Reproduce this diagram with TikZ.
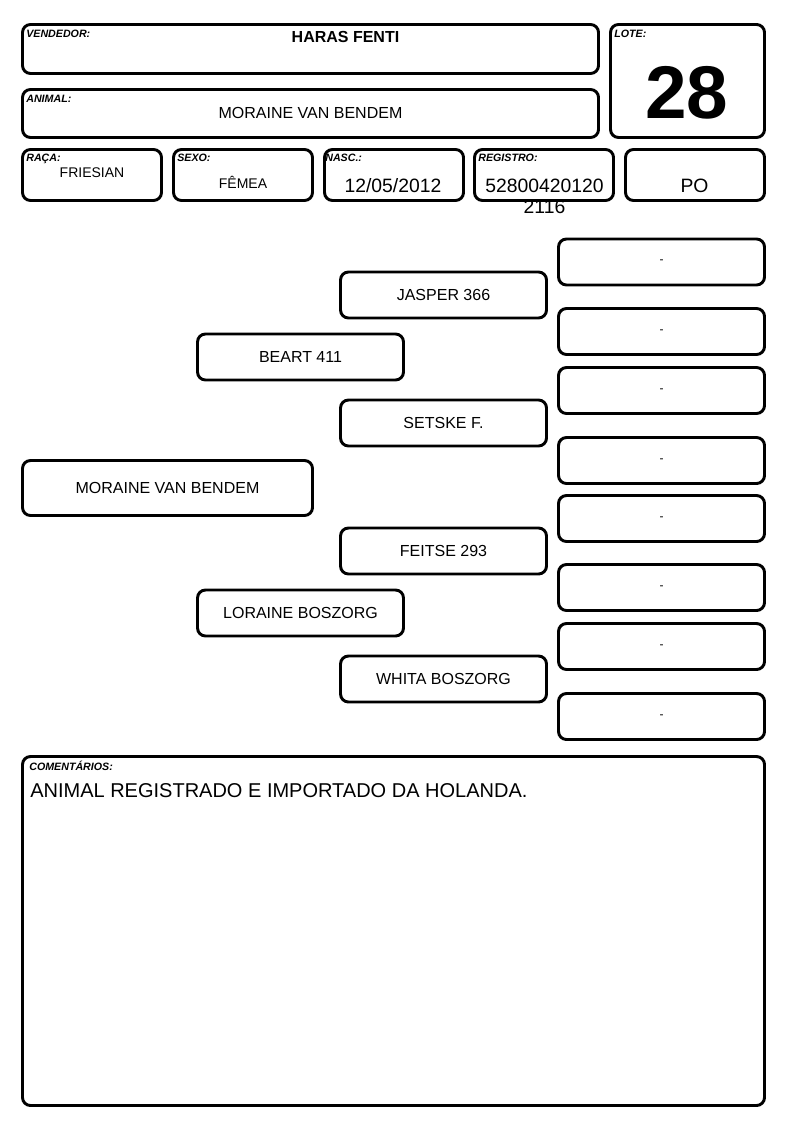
\documentclass[tikz,border=0pt]{standalone}
\usepackage{fontspec}
\setmainfont{Liberation Sans}

\begin{document}
\begin{tikzpicture}[x=0.75pt, y=-0.75pt]

  % Styles
  \tikzset{
    caixa/.style = {draw, black, line width=2.2pt, rounded corners=6pt, inner sep=0pt},
    rotulo/.style = {anchor=base west, inner sep=0pt, font=\fontsize{8}{9}\selectfont\bfseries\itshape},
    valor/.style = {anchor=base, inner sep=0pt},
    pedigree/.style = {caixa, minimum width=154.5pt, minimum height=34.5pt, font=\fontsize{12}{14}\selectfont},
    tracinho/.style = {pedigree, font=\fontsize{9}{10}\selectfont}
  }

  \useasboundingbox (0,0) rectangle (794,1123);

  % Cabecalho
  \node[caixa, minimum width=432pt, minimum height=36.75pt] (vendedor) at (310.5,49) {};
  \node[caixa, minimum width=432pt, minimum height=36pt] (animal) at (310.5,113.5) {};
  \node[caixa, minimum width=115.5pt, minimum height=84.75pt] (lote) at (687.5,81) {};
  \node[caixa, minimum width=104.25pt, minimum height=38.25pt] (raca) at (92,175) {};
  \node[caixa, minimum width=104.25pt, minimum height=38.25pt] (sexo) at (243,175) {};
  \node[caixa, minimum width=104.25pt, minimum height=38.25pt] (nasc) at (394,175) {};
  \node[caixa, minimum width=104.25pt, minimum height=38.25pt] (registro) at (544,175) {};
  \node[caixa, minimum width=104.25pt, minimum height=38.25pt] (po) at (695,175) {};

  \node[rotulo] (vendedorlbl) at ([shift={(5,14)}]vendedor.north west) {VENDEDOR:};
  \node[rotulo] (animallbl) at ([shift={(5,14)}]animal.north west) {ANIMAL:};
  \node[rotulo] (lotelbl) at ([shift={(5,14)}]lote.north west) {LOTE:};
  \node[rotulo] (racalbl) at ([shift={(5,13)}]raca.north west) {RAÇA:};
  \node[rotulo] (sexolbl) at ([shift={(5,13)}]sexo.north west) {SEXO:};
  \node[rotulo] (nasclbl) at ([shift={(2,13)}]nasc.north west) {NASC.:};
  \node[rotulo] (registrolbl) at ([shift={(5,13)}]registro.north west) {REGISTRO:};

  \node[valor, font=\fontsize{12}{14}\selectfont\bfseries] (haras) at (345.5,43) {HARAS FENTI};
  \node[valor, font=\fontsize{12}{14}\selectfont] (nome) at (310.5,119) {MORAINE VAN BENDEM};
  \node[valor, font=\fontsize{56}{60}\selectfont\bfseries] (numlote) at (687,119) {28};
  \node[valor, font=\fontsize{10.5}{12}\selectfont] (racaval) at (92,178) {FRIESIAN};
  \node[valor, font=\fontsize{10.5}{12}\selectfont] (sexoval) at (243,189) {FÊMEA};
  \node[valor, font=\fontsize{14.5}{15}\selectfont] (nascval) at (393,193) {12/05/2012};
  \node[valor, font=\fontsize{14.5}{15}\selectfont] (registroval) at (544.5,193) {52800420120};
  \node[valor, font=\fontsize{14.5}{15}\selectfont] (registroval2) at (544.5,214) {2116};
  \node[valor, font=\fontsize{14.5}{15}\selectfont] (poval) at (694.5,193) {PO};

  % Pedigree
  \node[caixa, minimum width=217.5pt, minimum height=41.25pt, font=\fontsize{12}{14}\selectfont] (filho) at (167.5,488) {MORAINE VAN BENDEM};

  \node[pedigree] (pai) at (300.5,357) {BEART 411};
  \node[pedigree] (mae) at (300.5,613) {LORAINE BOSZORG};

  \node[pedigree] (avopp) at (443.5,295) {JASPER 366};
  \node[pedigree] (avopm) at (443.5,423) {SETSKE F.};
  \node[pedigree] (avomp) at (443.5,551) {FEITSE 293};
  \node[pedigree] (avomm) at (443.5,679) {WHITA BOSZORG};

  \node[tracinho] (bisa1) at (661.5,262) {-};
  \node[tracinho] (bisa2) at (661.5,331.5) {-};
  \node[tracinho] (bisa3) at (661.5,390.5) {-};
  \node[tracinho] (bisa4) at (661.5,460.5) {-};
  \node[tracinho] (bisa5) at (661.5,518.5) {-};
  \node[tracinho] (bisa6) at (661.5,587.5) {-};
  \node[tracinho] (bisa7) at (661.5,646.5) {-};
  \node[tracinho] (bisa8) at (661.5,716.5) {-};

  % Comentarios
  \node[caixa, minimum width=556.5pt, minimum height=261.75pt] (comentarios) at (393.5,931) {};
  \node[rotulo] (comentarioslbl) at ([shift={(8,15)}]comentarios.north west) {COMENTÁRIOS:};
  \node[anchor=base west, inner sep=0pt, font=\fontsize{15}{18}\selectfont] (comentariostxt) at ([shift={(9,42)}]comentarios.north west) {ANIMAL REGISTRADO E IMPORTADO DA HOLANDA.};

\end{tikzpicture}
\end{document}
